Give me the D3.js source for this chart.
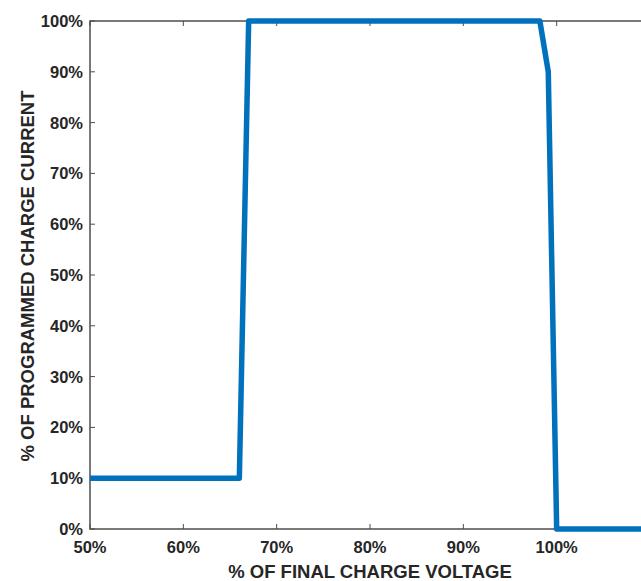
<!DOCTYPE html>
<html>
<head>
<meta charset="utf-8">
<script src="https://cdn.jsdelivr.net/npm/d3@7"></script>
<style>
  body { margin: 0; background: #fff; }
  text { font-family: "Liberation Sans", Arial, sans-serif; font-weight: bold; fill: #262626; }
</style>
</head>
<body>
<div id="chart"></div>
<script>
// % of final charge voltage vs % of programmed charge current
let voltage = [50, 66, 67, 98.2, 99.1, 100, 110];
let current = [10, 10, 100, 100, 90, 0, 0];
let xTicks = [50, 60, 70, 80, 90, 100];
let yTicks = [0, 10, 20, 30, 40, 50, 60, 70, 80, 90, 100];

let w = 641;
let h = 581;
let mLeft = 90, mTop = 21, mBottom = 529, mRight = 650;

let svg = d3.select("#chart")
  .append("svg")
  .attr("width", w)
  .attr("height", h);

let x = d3.scaleLinear().domain([50, 110]).range([mLeft, mRight]);
let y = d3.scaleLinear().domain([0, 100]).range([mBottom, mTop]);

let axisColor = "#4d4d4d";

// box lines (right side falls outside the picture)
svg.append("path")
  .attr("d", `M${mRight},${mTop}H${mLeft}V${mBottom}H${mRight}`)
  .attr("fill", "none")
  .attr("stroke", axisColor)
  .attr("stroke-width", 1.5);

// x ticks bottom + top, pointing inward
xTicks.forEach(t => {
  svg.append("line")
    .attr("x1", x(t)).attr("x2", x(t))
    .attr("y1", mBottom).attr("y2", mBottom - 5)
    .attr("stroke", axisColor);
  svg.append("line")
    .attr("x1", x(t)).attr("x2", x(t))
    .attr("y1", mTop).attr("y2", mTop + 5)
    .attr("stroke", axisColor);
  svg.append("text")
    .attr("x", x(t))
    .attr("y", 553)
    .attr("text-anchor", "middle")
    .style("font-size", "16.5px")
    .text(t + "%");
});

yTicks.forEach(t => {
  svg.append("line")
    .attr("x1", mLeft).attr("x2", mLeft + 5)
    .attr("y1", y(t)).attr("y2", y(t))
    .attr("stroke", axisColor);
  svg.append("text")
    .attr("x", 83)
    .attr("y", y(t) + 6)
    .attr("text-anchor", "end")
    .style("font-size", "16.5px")
    .text(t + "%");
});

// titles
svg.append("text")
  .attr("x", 370)
  .attr("y", 578)
  .attr("text-anchor", "middle")
  .style("font-size", "18.5px")
  .text("% OF FINAL CHARGE VOLTAGE");

svg.append("text")
  .attr("transform", "translate(34,276) rotate(-90)")
  .attr("text-anchor", "middle")
  .style("font-size", "18.5px")
  .text("% OF PROGRAMMED CHARGE CURRENT");

// the curve
let line = d3.line()
  .x((d, i) => x(voltage[i]))
  .y(d => y(d));

svg.append("path")
  .datum(current)
  .attr("d", line)
  .attr("fill", "none")
  .attr("stroke", "#0072BD")
  .attr("stroke-width", 5.5)
  .attr("stroke-linejoin", "round");
</script>
</body>
</html>
